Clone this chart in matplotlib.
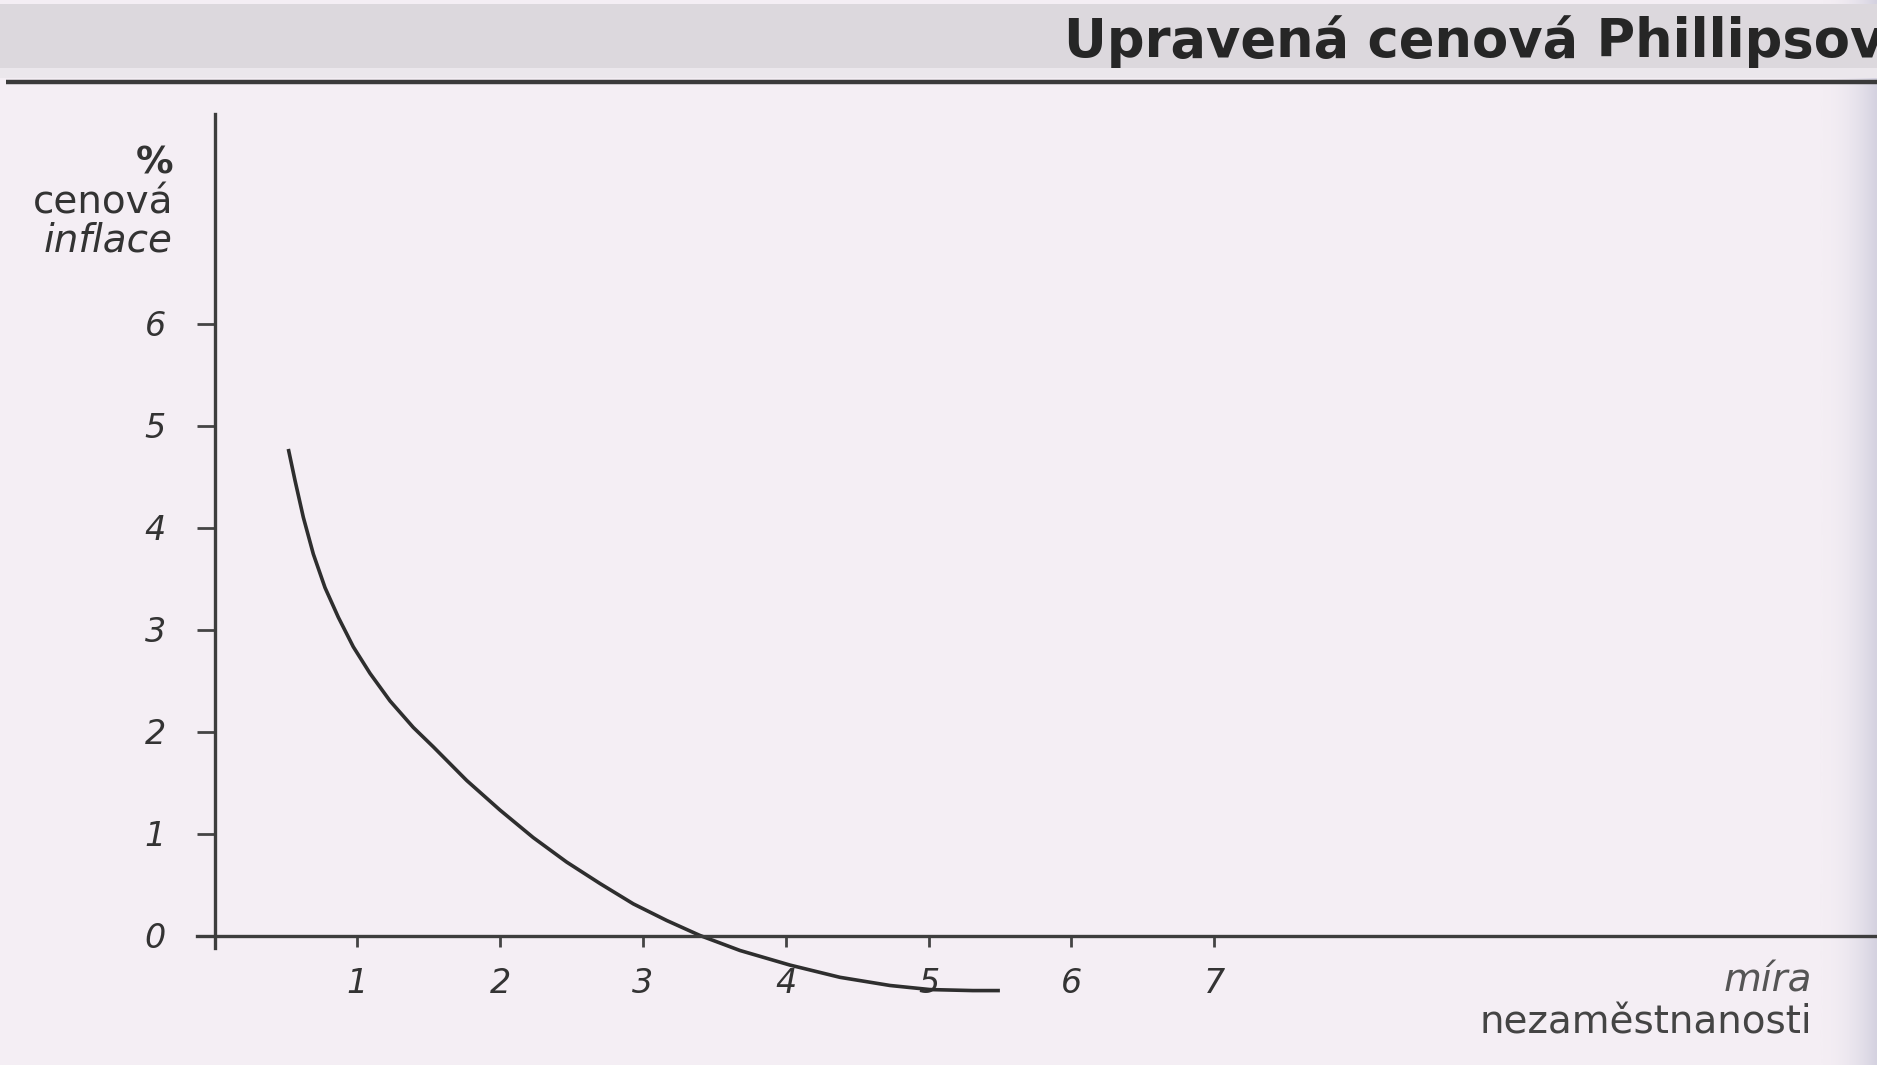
import numpy as np
import matplotlib
matplotlib.use("Agg")
import matplotlib.pyplot as plt

# curve
unemployment = [0.517, 0.564, 0.622, 0.692, 0.774, 0.867, 0.972, 1.089, 1.229,
                1.392, 1.532, 1.766, 1.999, 2.232, 2.466, 2.699, 2.933, 3.167,
                3.40, 3.68, 4.03, 4.38, 4.73, 5.01, 5.31, 5.50]
inflation = [4.77, 4.46, 4.10, 3.74, 3.41, 3.12, 2.83, 2.57, 2.30,
             2.04, 1.85, 1.52, 1.23, 0.96, 0.72, 0.51, 0.31, 0.147,
             0.0, -0.147, -0.29, -0.41, -0.49, -0.53, -0.54, -0.54]
x_ticks = [1, 2, 3, 4, 5, 6, 7]
y_ticks = [0, 1, 2, 3, 4, 5, 6]

title = "Upravená cenová Phillipsova křivka"
ylabel_lines = ["%", "cenová", "inflace"]
xlabel_lines = ["míra", "nezaměstnanosti"]

W, H = 1877, 1065
bg = "#f4eef4"
ink = "#333333"

fig = plt.figure(figsize=(W / 100, H / 100), dpi=100, facecolor=bg)

# page decoration: grey header band, rule, darker page edge on the right
deco = fig.add_axes([0, 0, 1, 1])
deco.set_xlim(0, W)
deco.set_ylim(H, 0)
deco.axis("off")
deco.add_patch(plt.Rectangle((0, 4), W, 64, color="#dcd8dd", lw=0))
deco.add_patch(plt.Rectangle((0, 68), W, 10, color="#ebe7ec", lw=0))
deco.plot([6, W], [82, 82], color="#3a3a3a", lw=3.2, solid_capstyle="butt")
edge = np.linspace(0, 1, 60)[None, :] ** 2
deco.imshow(edge, extent=[1820, W, H, 0], cmap=matplotlib.colors.LinearSegmentedColormap.from_list(
    "edge", [bg, "#d4d2e0"]), aspect="auto", zorder=0)
# the title runs off the page edge in the scan
deco.text(1064, 57, title, fontsize=38, fontweight="heavy", color="#262626",
          ha="left", va="baseline", clip_on=False)

# main chart
x0_px, y0_px, px_x, px_y = 214.5, 935.5, 142.8, 102
left_px = x0_px - 0.3 * px_x
ax = fig.add_axes([left_px / W, 0, 1 - left_px / W, (H - 114) / H])
ax.set_facecolor("none")
ax.set_xlim(-0.3, -0.3 + (W - left_px) / px_x)
ax.set_ylim(-(H - y0_px) / px_y, (y0_px - 114) / px_y)

for s in ["top", "right"]:
    ax.spines[s].set_visible(False)
ax.spines["left"].set_position(("data", 0))
ax.spines["bottom"].set_position(("data", 0))
ax.spines["left"].set_bounds(-0.12, (y0_px - 114) / px_y)
ax.spines["bottom"].set_bounds(-0.12, ax.get_xlim()[1])
for s in ["left", "bottom"]:
    ax.spines[s].set_color("#3d3d3d")
    ax.spines[s].set_linewidth(2.4)

ax.plot(unemployment, inflation, color="#2e2e2e", lw=2.6,
        solid_capstyle="butt", solid_joinstyle="round")

ax.set_xticks(x_ticks)
ax.set_yticks(y_ticks)
ax.set_xticklabels([str(v) for v in x_ticks])
ax.set_yticklabels([str(v) for v in y_ticks])
ax.tick_params(axis="x", direction="out", length=8, width=2, color="#444444",
               pad=15, labelsize=24, labelcolor=ink)
ax.tick_params(axis="y", direction="out", length=13, width=2, color="#444444",
               pad=22, labelsize=24, labelcolor=ink)
for lab in ax.get_xticklabels() + ax.get_yticklabels():
    lab.set_fontstyle("italic")

# axis titles
deco.text(173, 163, ylabel_lines[0], fontsize=27, fontweight="bold", color=ink,
          ha="right", va="center")
deco.text(173, 203, ylabel_lines[1], fontsize=28, color=ink, ha="right", va="center")
deco.text(173, 241, ylabel_lines[2], fontsize=28, style="italic", color=ink,
          ha="right", va="center")
deco.text(1812, 980, xlabel_lines[0], fontsize=28, style="italic", color="#555555",
          ha="right", va="center")
deco.text(1812, 1022, xlabel_lines[1], fontsize=28, color="#444444",
          ha="right", va="center")

fig.savefig("out.png", dpi=100, facecolor=bg)
